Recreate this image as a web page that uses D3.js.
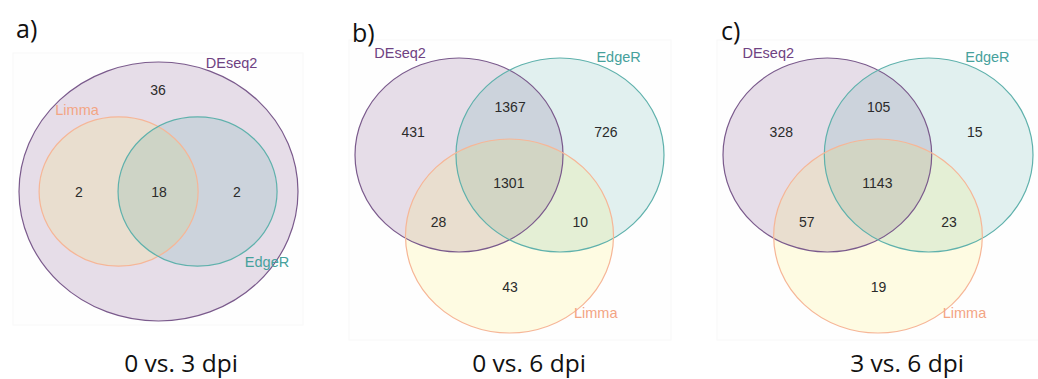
<!DOCTYPE html>
<html>
<head>
<meta charset="utf-8">
<script src="https://cdn.jsdelivr.net/npm/d3@7"></script>
<style>
  html, body { margin: 0; padding: 0; background: #fff; }
  svg { display: block; }
  .tag, .title { font-family: "Open Sans", sans-serif; fill: #111; }
  .count { font-family: "Liberation Sans", Arial, sans-serif; fill: #2b2b2b; }
  .setname { font-family: "Liberation Sans", Arial, sans-serif; }
</style>
</head>
<body>
<svg id="chart" width="1038" height="379"></svg>
<script>
// ---- data ----
var panelTags = ['a)', 'b)', 'c)'];
var panelTitles = ['0 vs. 3 dpi', '0 vs. 6 dpi', '3 vs. 6 dpi'];
var setNames = ['DEseq2', 'EdgeR', 'Limma'];
// region keys: D = DEseq2, E = EdgeR, L = Limma
var regionKeys = ['D', 'E', 'L', 'DE', 'DL', 'EL', 'DEL'];
var countsA = [36, 0, 0, 2, 2, 0, 18];
var countsB = [431, 726, 43, 1367, 28, 10, 1301];
var countsC = [328, 15, 19, 105, 57, 23, 1143];

// ---- layouts (unit box 0..1) ----
var nested = {
  sets: {
    DEseq2: {cx: 0.5, cy: 0.5, rx: 0.5, ry: 0.5},
    Limma: {cx: 0.357, cy: 0.5, rx: 0.285, ry: 0.288},
    EdgeR: {cx: 0.640, cy: 0.5, rx: 0.285, ry: 0.288}
  },
  order: ['DEseq2', 'Limma', 'EdgeR'],
  regions: {D: [0.498, 0.108], DL: [0.215, 0.502], DEL: [0.502, 0.502], DE: [0.781, 0.502]},
  names: {DEseq2: [0.762, 0.004], Limma: [0.208, 0.185], EdgeR: [0.889, 0.772]}
};
var triple = {
  sets: {
    DEseq2: {cx: 0.3366, cy: 0.3527, rx: 0.3366, ry: 0.3527},
    EdgeR: {cx: 0.6634, cy: 0.3527, rx: 0.3366, ry: 0.3527},
    Limma: {cx: 0.5, cy: 0.6473, rx: 0.3366, ry: 0.3527}
  },
  order: ['DEseq2', 'EdgeR', 'Limma'],
  regions: {D: [0.188, 0.269], DE: [0.502, 0.178], E: [0.812, 0.269], DEL: [0.498, 0.455],
            DL: [0.270, 0.596], EL: [0.729, 0.596], L: [0.502, 0.833]},
  names: {DEseq2: [0.146, -0.018], EdgeR: [0.853, -0.004], Limma: [0.779, 0.927]}
};

var panels = [
  {counts: countsA, layout: nested, box: [19, 298, 62, 321], bg: [13, 303, 53, 325], tag: [16, 38], title: [181, 372]},
  {counts: countsB, layout: triple, box: [355, 664, 58, 333], bg: [349, 671, 40, 340], tag: [352, 42], title: [529, 372]},
  {counts: countsC, layout: triple, box: [723, 1033, 58, 333], bg: [717, 1045, 40, 340], tag: [721, 40], title: [907, 372]}
];

var fillColor = {DEseq2: '#440154', EdgeR: '#21908C', Limma: '#FDE725'};
var strokeColor = {DEseq2: '#7a5a8c', EdgeR: '#5fb1ac', Limma: '#f6b697'};
var textColor = {DEseq2: '#6f4282', EdgeR: '#46a19c', Limma: '#f3a584'};

var svg = d3.select('#chart');

panels.forEach(function(p, i){
  var x = d3.scaleLinear().domain([0, 1]).range([p.box[0], p.box[1]]);
  var y = d3.scaleLinear().domain([0, 1]).range([p.box[2], p.box[3]]);
  var kx = p.box[1] - p.box[0], ky = p.box[3] - p.box[2];
  var g = svg.append('g').attr('class', 'panel');

  g.append('rect')
    .attr('x', p.bg[0]).attr('y', p.bg[2])
    .attr('width', p.bg[1] - p.bg[0]).attr('height', p.bg[3] - p.bg[2])
    .attr('fill', '#fefefe').attr('stroke', '#f8f8f8').attr('stroke-width', 1);

  var sets = p.layout.order.map(function(n){ return {name: n, geo: p.layout.sets[n]}; });
  g.selectAll('ellipse.fill').data(sets).enter().append('ellipse')
    .attr('class', 'fill')
    .attr('cx', function(d){ return x(d.geo.cx); })
    .attr('cy', function(d){ return y(d.geo.cy); })
    .attr('rx', function(d){ return d.geo.rx * kx; })
    .attr('ry', function(d){ return d.geo.ry * ky; })
    .attr('fill', function(d){ return fillColor[d.name]; })
    .attr('fill-opacity', 0.13)
    .attr('stroke', 'none');
  g.selectAll('ellipse.edge').data(sets).enter().append('ellipse')
    .attr('class', 'edge')
    .attr('cx', function(d){ return x(d.geo.cx); })
    .attr('cy', function(d){ return y(d.geo.cy); })
    .attr('rx', function(d){ return d.geo.rx * kx; })
    .attr('ry', function(d){ return d.geo.ry * ky; })
    .attr('fill', 'none')
    .attr('stroke', function(d){ return strokeColor[d.name]; })
    .attr('stroke-width', 1.2);

  var cells = regionKeys.map(function(k, j){ return {key: k, n: p.counts[j]}; })
    .filter(function(d){ return p.layout.regions[d.key]; });
  g.selectAll('text.count').data(cells).enter().append('text')
    .attr('class', 'count')
    .attr('x', function(d){ return x(p.layout.regions[d.key][0]); })
    .attr('y', function(d){ return y(p.layout.regions[d.key][1]); })
    .attr('dy', '0.35em')
    .attr('text-anchor', 'middle')
    .attr('font-size', 14)
    .text(function(d){ return d.n; });

  g.selectAll('text.setname').data(setNames).enter().append('text')
    .attr('class', 'setname')
    .attr('x', function(d){ return x(p.layout.names[d][0]); })
    .attr('y', function(d){ return y(p.layout.names[d][1]); })
    .attr('dy', '0.35em')
    .attr('text-anchor', 'middle')
    .attr('font-size', 14.5)
    .attr('fill', function(d){ return textColor[d]; })
    .text(function(d){ return d; });

  g.append('text').attr('class', 'tag')
    .attr('x', p.tag[0]).attr('y', p.tag[1])
    .attr('font-size', 25)
    .text(panelTags[i]);

  g.append('text').attr('class', 'title')
    .attr('x', p.title[0]).attr('y', p.title[1])
    .attr('text-anchor', 'middle')
    .attr('font-size', 24.5)
    .text(panelTitles[i]);
});
</script>
</body>
</html>
